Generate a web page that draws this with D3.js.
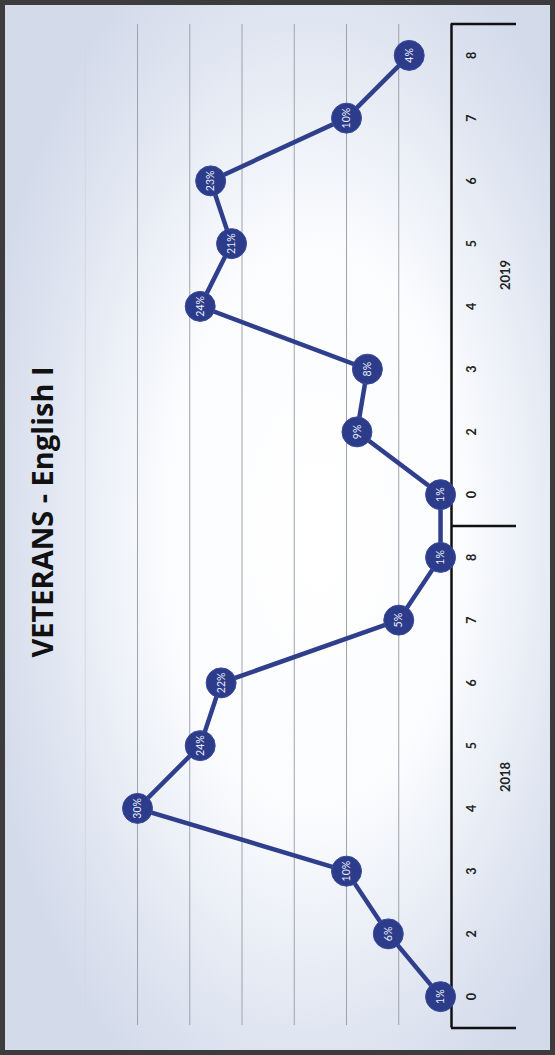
<!DOCTYPE html>
<html><head><meta charset="utf-8">
<script src="https://cdn.jsdelivr.net/npm/d3@7/dist/d3.min.js"></script>
<style>html,body{margin:0;padding:0;background:#fff;}svg{display:block;}</style>
</head><body>
<script>
const years = ["2018", "2019"];
const months = ["0", "2", "3", "4", "5", "6", "7", "8"];
const values2018 = [1, 6, 10, 30, 24, 22, 5, 1];
const values2019 = [1, 9, 8, 24, 21, 23, 10, 4];
const gridTicks = [5, 10, 15, 20, 25, 30, 35];
const title = "VETERANS - English I";

const data = [];
years.forEach((yr, i) => {
  const vals = i === 0 ? values2018 : values2019;
  months.forEach((m, j) => data.push({key: yr + "-" + m, year: yr, month: m, value: vals[j]}));
});

const W = 555, H = 1055;
const svg = d3.select("body").append("svg").attr("width", W).attr("height", H);
const defs = svg.append("defs");
const rg = defs.append("radialGradient").attr("id", "bg")
  .attr("cx", "0.55").attr("cy", "0.5").attr("r", "0.6")
  .attr("fx", "0.58").attr("fy", "0.5");
rg.append("stop").attr("offset", "0").attr("stop-color", "#ffffff");
rg.append("stop").attr("offset", "0.45").attr("stop-color", "#fbfcfe");
rg.append("stop").attr("offset", "0.8").attr("stop-color", "#e0e6f1");
rg.append("stop").attr("offset", "1").attr("stop-color", "#d3daea");

svg.append("rect").attr("x", 0).attr("y", 0).attr("width", W).attr("height", H).attr("fill", "url(#bg)");
svg.append("rect").attr("x", 2.5).attr("y", 2.5).attr("width", W - 5).attr("height", H - 5)
  .attr("fill", "none").attr("stroke", "#3c3c3c").attr("stroke-width", 5);

// chart drawn in landscape coordinates then rotated
const g = svg.append("g").attr("transform", `translate(0,${H}) rotate(-90)`);

const x = d3.scaleBand().domain(data.map(d => d.key)).range([27, 1031]);
const y = d3.scaleLinear().domain([0, 40]).range([451, 33]);

// gridlines
g.append("g").selectAll("line").data(gridTicks).join("line")
  .attr("x1", 30).attr("x2", 1031)
  .attr("y1", d => y(d)).attr("y2", d => y(d))
  .attr("stroke", (d) => d >= 35 ? "#d4d8e0" : "#9ea2ab").attr("stroke-width", 1);

// category axis
const axis = g.append("g").attr("transform", `translate(0,${y(0)})`)
  .call(d3.axisBottom(x).tickSize(0).tickPadding(16).tickFormat(k => k.split("-")[1]));
axis.select(".domain").attr("stroke", "#111").attr("stroke-width", 2.5);
axis.selectAll("text").attr("font-family", "Lato, 'Open Sans', sans-serif")
  .attr("font-size", 12.5).attr("font-weight", "bold").attr("fill", "#222")
  .attr("dy", "0.71em");

// group separators
const x0 = x.range()[0], x1 = x.range()[1];
const sepX = [x0, x(years[1] + "-" + months[0]), x1];
g.append("g").selectAll("line").data(sepX).join("line")
  .attr("x1", d => d).attr("x2", d => d)
  .attr("y1", y(0)).attr("y2", y(0) + 65)
  .attr("stroke", "#111").attr("stroke-width", 2.5);

// year labels
g.append("g").selectAll("text").data(years).join("text")
  .attr("x", (yr, i) => (sepX[i] + sepX[i + 1]) / 2)
  .attr("y", y(0) + 59)
  .attr("text-anchor", "middle")
  .attr("font-family", "Lato, 'Open Sans', sans-serif")
  .attr("font-size", 13).attr("font-weight", "bold").attr("fill", "#222")
  .text(d => d);

// line
const line = d3.line().x(d => x(d.key) + x.bandwidth() / 2).y(d => y(d.value));
g.append("path").datum(data).attr("d", line)
  .attr("fill", "none").attr("stroke", "#2f3f8c").attr("stroke-width", 4.5);

// markers
const pts = g.append("g").selectAll("g").data(data).join("g")
  .attr("transform", d => `translate(${x(d.key) + x.bandwidth() / 2},${y(d.value)})`);
pts.append("circle").attr("r", 15).attr("fill", "#2c3c8a").attr("stroke", "#3a4c9c").attr("stroke-width", 1);
pts.append("text").attr("text-anchor", "middle").attr("dy", "0.35em")
  .attr("font-family", "Lato, 'Open Sans', sans-serif").attr("font-size", 10.5)
  .attr("fill", "#e8ecf8")
  .text(d => d.value + "%");

// title
g.append("text").attr("x", 543).attr("y", 43).attr("dy", "0.35em")
  .attr("text-anchor", "middle")
  .attr("font-family", "'Open Sans', sans-serif").attr("font-size", 29).attr("font-weight", "bold")
  .attr("fill", "#111")
  .text(title);
</script>
</body></html>
